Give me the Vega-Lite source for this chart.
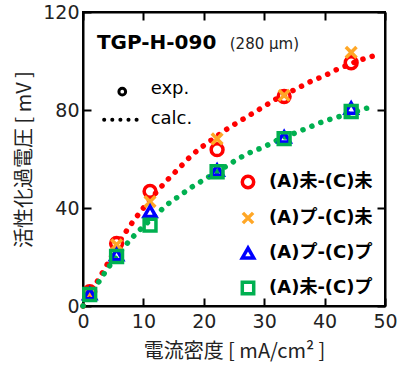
{
  "$schema": "https://vega.github.io/schema/vega-lite/v6.json",
  "autosize": {"type": "none"},
  "padding": {"left": 83, "top": 12, "right": 15, "bottom": 64},
  "width": 302,
  "height": 294,
  "background": "white",
  "config": {
    "font": "DejaVu Sans, Noto Sans CJK JP",
    "view": {"stroke": "black", "strokeWidth": 2},
    "axis": {
      "domainColor": "black", "domainWidth": 2, "tickColor": "black", "tickWidth": 2,
      "tickSize": -8, "grid": false, "labelFontSize": 19, "labelColor": "#222", "labelFlush": false,
      "labelFont": "DejaVu Sans", "titleFont": "Noto Sans CJK JP", "titleFontSize": 20,
      "titleFontWeight": "normal", "titleColor": "#222"
    },
    "legend": {
      "orient": "none", "legendX": 156, "legendY": 161, "title": null,
      "labelFont": "DejaVu Sans, Noto Sans CJK JP", "labelFontSize": 18, "labelFontWeight": "bold",
      "symbolStrokeWidth": 3.5, "symbolSize": 130, "rowPadding": 10, "labelOffset": 12, "padding": 0
    }
  },
  "datasets": {
    "one": [{}],
    "exp": [
      {"series": "(A)未-(C)未", "x": 1.11, "y": 5.8},
      {"series": "(A)未-(C)未", "x": 5.56, "y": 25.5},
      {"series": "(A)未-(C)未", "x": 11.1, "y": 46.8},
      {"series": "(A)未-(C)未", "x": 22.2, "y": 63.8},
      {"series": "(A)未-(C)未", "x": 33.3, "y": 85.5},
      {"series": "(A)未-(C)未", "x": 44.4, "y": 99.3},
      {"series": "(A)プ-(C)未", "x": 1.11, "y": 5.2},
      {"series": "(A)プ-(C)未", "x": 5.56, "y": 25},
      {"series": "(A)プ-(C)未", "x": 11.1, "y": 42.6},
      {"series": "(A)プ-(C)未", "x": 22.2, "y": 68.2},
      {"series": "(A)プ-(C)未", "x": 33.3, "y": 86},
      {"series": "(A)プ-(C)未", "x": 44.4, "y": 103.5},
      {"series": "(A)プ-(C)プ", "x": 1.11, "y": 5},
      {"series": "(A)プ-(C)プ", "x": 5.56, "y": 21},
      {"series": "(A)プ-(C)プ", "x": 11.1, "y": 38.6},
      {"series": "(A)プ-(C)プ", "x": 22.2, "y": 55.5},
      {"series": "(A)プ-(C)プ", "x": 33.3, "y": 69},
      {"series": "(A)プ-(C)プ", "x": 44.4, "y": 80.8},
      {"series": "(A)未-(C)プ", "x": 1.11, "y": 4.7},
      {"series": "(A)未-(C)プ", "x": 5.56, "y": 20.2},
      {"series": "(A)未-(C)プ", "x": 11.1, "y": 33},
      {"series": "(A)未-(C)プ", "x": 22.2, "y": 54.8},
      {"series": "(A)未-(C)プ", "x": 33.3, "y": 68.3},
      {"series": "(A)未-(C)プ", "x": 44.4, "y": 79.4}
    ],
    "calc": [
      {"series": "(A)未-(C)未", "x": 0, "y": 0},
      {"series": "(A)未-(C)未", "x": 2, "y": 8.5},
      {"series": "(A)未-(C)未", "x": 4, "y": 17},
      {"series": "(A)未-(C)未", "x": 6, "y": 26},
      {"series": "(A)未-(C)未", "x": 8, "y": 33.5},
      {"series": "(A)未-(C)未", "x": 10, "y": 40},
      {"series": "(A)未-(C)未", "x": 12, "y": 46},
      {"series": "(A)未-(C)未", "x": 14, "y": 51.5},
      {"series": "(A)未-(C)未", "x": 16, "y": 56.5},
      {"series": "(A)未-(C)未", "x": 18, "y": 61.5},
      {"series": "(A)未-(C)未", "x": 20, "y": 65.5},
      {"series": "(A)未-(C)未", "x": 22, "y": 69},
      {"series": "(A)未-(C)未", "x": 24, "y": 72.5},
      {"series": "(A)未-(C)未", "x": 26, "y": 75.5},
      {"series": "(A)未-(C)未", "x": 28, "y": 78.5},
      {"series": "(A)未-(C)未", "x": 30, "y": 81.5},
      {"series": "(A)未-(C)未", "x": 32, "y": 84.5},
      {"series": "(A)未-(C)未", "x": 34, "y": 87},
      {"series": "(A)未-(C)未", "x": 36, "y": 89.5},
      {"series": "(A)未-(C)未", "x": 38, "y": 92},
      {"series": "(A)未-(C)未", "x": 40, "y": 94},
      {"series": "(A)未-(C)未", "x": 42, "y": 96.5},
      {"series": "(A)未-(C)未", "x": 44, "y": 98.5},
      {"series": "(A)未-(C)未", "x": 46, "y": 100.5},
      {"series": "(A)未-(C)未", "x": 48, "y": 102},
      {"series": "(A)未-(C)プ", "x": 0, "y": 0},
      {"series": "(A)未-(C)プ", "x": 2, "y": 7.5},
      {"series": "(A)未-(C)プ", "x": 4, "y": 15},
      {"series": "(A)未-(C)プ", "x": 6, "y": 21.5},
      {"series": "(A)未-(C)プ", "x": 8, "y": 27.5},
      {"series": "(A)未-(C)プ", "x": 10, "y": 32.5},
      {"series": "(A)未-(C)プ", "x": 12, "y": 37},
      {"series": "(A)未-(C)プ", "x": 14, "y": 41.5},
      {"series": "(A)未-(C)プ", "x": 16, "y": 45},
      {"series": "(A)未-(C)プ", "x": 18, "y": 48.5},
      {"series": "(A)未-(C)プ", "x": 20, "y": 51.5},
      {"series": "(A)未-(C)プ", "x": 22, "y": 54.5},
      {"series": "(A)未-(C)プ", "x": 24, "y": 57.5},
      {"series": "(A)未-(C)プ", "x": 26, "y": 60.5},
      {"series": "(A)未-(C)プ", "x": 28, "y": 63},
      {"series": "(A)未-(C)プ", "x": 30, "y": 65},
      {"series": "(A)未-(C)プ", "x": 32, "y": 67.5},
      {"series": "(A)未-(C)プ", "x": 34, "y": 69.5},
      {"series": "(A)未-(C)プ", "x": 36, "y": 71.5},
      {"series": "(A)未-(C)プ", "x": 38, "y": 73.5},
      {"series": "(A)未-(C)プ", "x": 40, "y": 75.5},
      {"series": "(A)未-(C)プ", "x": 42, "y": 77},
      {"series": "(A)未-(C)プ", "x": 44, "y": 78.5},
      {"series": "(A)未-(C)プ", "x": 46, "y": 80},
      {"series": "(A)未-(C)プ", "x": 48, "y": 81.5}
    ]
  },
  "resolve": {"axis": {"x": "independent", "y": "independent"}},
  "layer": [
    {
      "data": {"name": "calc"},
      "mark": {"type": "line", "strokeDash": [0.1, 9.5], "strokeCap": "round", "strokeWidth": 5.5, "interpolate": "monotone"},
      "encoding": {
        "x": {"field": "x", "type": "quantitative", "scale": {"domain": [0, 50], "nice": false},
              "axis": {"values": [0, 10, 20, 30, 40, 50], "title": "電流密度 [ mA/cm² ]", "labelPadding": 14, "titlePadding": 10}},
        "y": {"field": "y", "type": "quantitative", "scale": {"domain": [0, 120], "nice": false},
              "axis": {"values": [0, 40, 80, 120], "title": "活性化過電圧 [ mV ]", "labelPadding": 12, "titlePadding": 8}},
        "color": {"field": "series", "type": "nominal",
                  "scale": {"domain": ["(A)未-(C)未", "(A)プ-(C)未", "(A)プ-(C)プ", "(A)未-(C)プ"],
                            "range": ["#ff0000", "#ffa726", "#0000ff", "#00b050"]}},
        "detail": {"field": "series"}
      }
    },
    {
      "data": {"name": "exp"},
      "mark": {"type": "point", "filled": false, "strokeWidth": 3.5, "size": 140, "opacity": 1},
      "encoding": {
        "x": {"field": "x", "type": "quantitative", "axis": {"orient": "top", "values": [0, 10, 20, 30, 40, 50], "labels": false, "title": null}},
        "y": {"field": "y", "type": "quantitative", "axis": {"orient": "right", "values": [0, 40, 80, 120], "labels": false, "title": null}},
        "color": {"field": "series", "type": "nominal",
                  "legend": {"encode": {"labels": {"update": {"fill": {"signal": "datum.value === '(A)プ-(C)未' ? '#f79646' : scale('color', datum.value)"}}}}}},
        "shape": {"field": "series", "type": "nominal",
                  "scale": {"domain": ["(A)未-(C)未", "(A)プ-(C)未", "(A)プ-(C)プ", "(A)未-(C)プ"],
                            "range": ["circle", "M-0.9,-0.9L0.9,0.9M0.9,-0.9L-0.9,0.9", "triangle-up", "square"]}}
      }
    },
    {
      "data": {"name": "one"},
      "mark": {"type": "point", "filled": false, "strokeWidth": 3, "size": 45, "color": "black", "shape": "circle", "opacity": 1},
      "encoding": {"x": {"datum": 6.5, "type": "quantitative", "axis": null}, "y": {"datum": 87.5, "type": "quantitative", "axis": null}}
    },
    {
      "data": {"name": "one"},
      "mark": {"type": "rule", "strokeDash": [0.1, 8], "strokeCap": "round", "strokeWidth": 4, "color": "black"},
      "encoding": {"x": {"datum": 3.5, "type": "quantitative", "axis": null}, "x2": {"datum": 9.4}, "y": {"datum": 76, "type": "quantitative", "axis": null}}
    },
    {
      "data": {"name": "one"},
      "mark": {"type": "text", "align": "left", "baseline": "middle", "fontSize": 18, "font": "DejaVu Sans", "color": "black", "text": "exp."},
      "encoding": {"x": {"datum": 11.2, "type": "quantitative", "axis": null}, "y": {"datum": 88.5, "type": "quantitative", "axis": null}}
    },
    {
      "data": {"name": "one"},
      "mark": {"type": "text", "align": "left", "baseline": "middle", "fontSize": 18, "font": "DejaVu Sans", "color": "black", "text": "calc."},
      "encoding": {"x": {"datum": 11.2, "type": "quantitative", "axis": null}, "y": {"datum": 76.5, "type": "quantitative", "axis": null}}
    },
    {
      "data": {"name": "one"},
      "mark": {"type": "text", "align": "left", "baseline": "middle", "fontSize": 20, "fontWeight": "bold", "font": "DejaVu Sans", "color": "black", "text": "TGP-H-090"},
      "encoding": {"x": {"datum": 2.3, "type": "quantitative", "axis": null}, "y": {"datum": 107.5, "type": "quantitative", "axis": null}}
    },
    {
      "data": {"name": "one"},
      "mark": {"type": "text", "align": "left", "baseline": "middle", "fontSize": 15, "font": "DejaVu Sans", "color": "#222", "text": "(280 μm)"},
      "encoding": {"x": {"datum": 24.3, "type": "quantitative", "axis": null}, "y": {"datum": 107, "type": "quantitative", "axis": null}}
    }
  ]
}
